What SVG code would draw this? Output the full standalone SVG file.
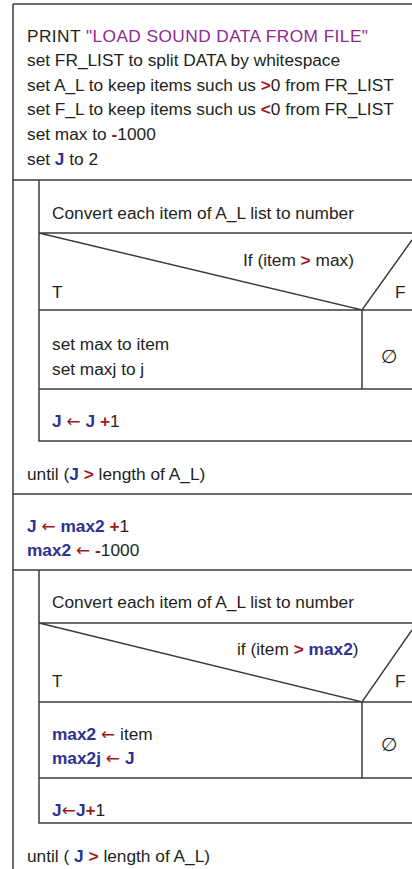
<svg xmlns="http://www.w3.org/2000/svg" width="412" height="869" viewBox="0 0 412 869">
<style>
text{font-family:"Liberation Sans",Arial,sans-serif;font-size:17.3px;fill:#231f20}
.p{fill:#92278f}
.r{fill:#a3161c;font-weight:bold}
.ra{fill:#a3161c;font-family:"DejaVu Sans",sans-serif;font-size:17px}
.b{fill:#2e3192;font-weight:bold}
.e{font-family:"DejaVu Sans",sans-serif;font-size:19px}
.ln{stroke:#3c3c3c;stroke-width:1.5;fill:none}
</style>
<rect width="412" height="869" fill="#fff"/>
<g id="connectors">
<path class="ln" d="M13 4H412M13 4V869M13 180H412M13 494H412M13 570H412"/>
<path class="ln" d="M39 180V441H412M39 233H412M39 310H412M39 389H412M362 310V389M39 233L362 310L412 240"/>
<path class="ln" d="M39 570V823H412M39 623H412M39 702H412M39 778H412M362 702V778M39 623L362 702L412 630"/>
</g>
<g id="init">
<text x="27" y="42" textLength="341" lengthAdjust="spacing">PRINT <tspan class="p">"LOAD SOUND DATA FROM FILE"</tspan></text>
<text x="27" y="66">set FR_LIST to split DATA by whitespace</text>
<text x="27" y="91">set A_L to keep items such us <tspan class="r">&gt;</tspan>0 from FR_LIST</text>
<text x="27" y="115">set F_L to keep items such us <tspan class="r">&lt;</tspan>0 from FR_LIST</text>
<text x="27" y="140">set max to <tspan class="r">-</tspan>1000</text>
<text x="27" y="165">set <tspan class="b">J</tspan> to 2</text>
</g>
<g id="loop1">
<text x="52" y="219">Convert each item of A_L list to number</text>
<text x="243" y="266">If (item <tspan class="r">&gt;</tspan> max)</text>
<text x="52" y="298">T</text>
<text x="395" y="298">F</text>
<text x="52" y="350">set max to item</text>
<text x="52" y="375">set maxj to j</text>
<text class="e" x="389" y="363" text-anchor="middle">∅</text>
<text x="52" y="427"><tspan class="b">J</tspan> <tspan class="ra">←</tspan> <tspan class="b">J</tspan> <tspan class="r">+</tspan>1</text>
<text x="27" y="480">until (<tspan class="b">J</tspan> <tspan class="r">&gt;</tspan> length of A_L)</text>
</g>
<g id="reset">
<text x="27" y="532"><tspan class="b">J</tspan> <tspan class="ra">←</tspan> <tspan class="b">max2</tspan> <tspan class="r">+</tspan>1</text>
<text x="27" y="556"><tspan class="b">max2</tspan> <tspan class="ra">←</tspan> <tspan class="r">-</tspan>1000</text>
</g>
<g id="loop2">
<text x="52" y="608">Convert each item of A_L list to number</text>
<text x="237" y="655">if (item <tspan class="r">&gt;</tspan> <tspan class="b">max2</tspan>)</text>
<text x="52" y="687">T</text>
<text x="395" y="687">F</text>
<text x="52" y="740"><tspan class="b">max2</tspan> <tspan class="ra">←</tspan> item</text>
<text x="52" y="764"><tspan class="b">max2j</tspan> <tspan class="ra">←</tspan> <tspan class="b">J</tspan></text>
<text class="e" x="389" y="751" text-anchor="middle">∅</text>
<text x="52" y="816"><tspan class="b">J</tspan><tspan class="ra">←</tspan><tspan class="b">J</tspan><tspan class="r">+</tspan>1</text>
<text x="27" y="862">until ( <tspan class="b">J</tspan> <tspan class="r">&gt;</tspan> length of A_L)</text>
</g>
</svg>
